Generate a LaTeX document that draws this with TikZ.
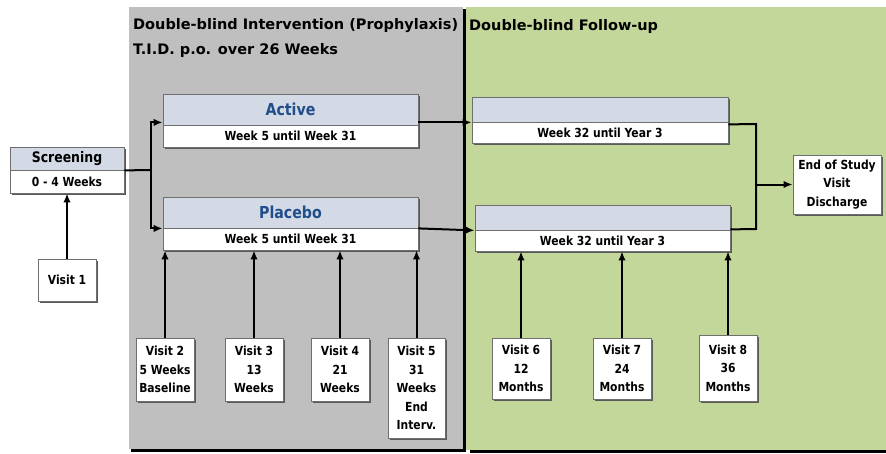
\documentclass[tikz,border=0pt]{standalone}
\usepackage{fontspec}
\setmainfont{DejaVu Sans}[FakeStretch=0.86]
\newfontfamily\ttlfont{DejaVu Sans}
\usetikzlibrary{arrows.meta,shadows}
\definecolor{panelgray}{HTML}{BFBFBF}
\definecolor{panelgreen}{HTML}{C4D79B}
\definecolor{hdrblue}{HTML}{D3DAE5}
\definecolor{txtblue}{HTML}{214E8A}
\definecolor{boxline}{HTML}{6F6F6F}
\tikzset{
  box/.style={draw=boxline, line width=0.8pt, fill=white,
    drop shadow={shadow xshift=2pt, shadow yshift=-2pt, fill=black!65, opacity=1},
    inner sep=0pt, align=center, font=\bfseries\fontsize{12.5}{18.5}\selectfont},
  hdr/.style={box, fill=hdrblue, text=txtblue, font=\bfseries\fontsize{16.5}{18}\selectfont},
  conn/.style={line width=2pt, -{Latex[length=9pt,width=7.5pt]}},
  plain/.style={line width=2pt},
  ttl/.style={anchor=base west, inner sep=0pt, font=\ttlfont\bfseries\fontsize{14.5}{18}\selectfont}
}
\begin{document}
\begin{tikzpicture}[x=1pt,y=-1pt]
\useasboundingbox[fill=white] (0,0) rectangle (886,453);
% panels
\fill[black] (131,9) rectangle (466,452);
\fill[panelgray] (129,7) rectangle (463,449);
\fill[black] (470,10) rectangle (886,453);
\fill[panelgreen] (466,7) rectangle (886,450);
\node[ttl] (t1) at (133,29) {Double-blind Intervention (Prophylaxis)};
\node[ttl] (t2) at (133,54) {T.I.D. p.o. over 26 Weeks};
\node[ttl] (t3) at (469,30) {Double-blind Follow-up};
% screening
\node[hdr, text=black, font=\bfseries\fontsize{14.5}{16}\selectfont, minimum width=114, minimum height=23] (scrH) at (67,158.5) {Screening};
\node[box, minimum width=114, minimum height=23] (scrB) at (67,181.5) {0 - 4 Weeks};
% active / placebo
\node[hdr, minimum width=255, minimum height=31] (actH) at (290.5,109.5) {Active};
\node[box, minimum width=255, minimum height=22] (actB) at (290.5,136) {Week 5 until Week 31};
\node[hdr, minimum width=255, minimum height=31] (plcH) at (290.5,212.5) {Placebo};
\node[box, minimum width=255, minimum height=22] (plcB) at (290.5,239) {Week 5 until Week 31};
% follow-up
\node[hdr, minimum width=256, minimum height=25] (f1H) at (600,109.5) {};
\node[box, minimum width=256, minimum height=21] (f1B) at (600,132.5) {Week 32 until Year 3};
\node[hdr, minimum width=255, minimum height=25] (f2H) at (602.5,217.5) {};
\node[box, minimum width=255, minimum height=21] (f2B) at (602.5,240.5) {Week 32 until Year 3};
\node[box, minimum width=88, minimum height=59] (endb) at (837,184.5) {End of Study\\Visit\\Discharge};
% visits
\node[box, minimum width=58, minimum height=42] (v1) at (67,280) {Visit 1};
\node[box, minimum width=58, minimum height=63] (v2) at (165,369.5) {Visit 2\\5 Weeks\\Baseline};
\node[box, minimum width=58, minimum height=63] (v3) at (254,369.5) {Visit 3\\13\\Weeks};
\node[box, minimum width=58, minimum height=63] (v4) at (340,369.5) {Visit 4\\21\\Weeks};
\node[box, minimum width=57, minimum height=100] (v5) at (416.5,388) {Visit 5\\31\\Weeks\\End\\Interv.};
\node[box, minimum width=58, minimum height=61] (v6) at (521,368.5) {Visit 6\\12\\Months};
\node[box, minimum width=58, minimum height=61] (v7) at (622,368.5) {Visit 7\\24\\Months};
\node[box, minimum width=58, minimum height=66] (v8) at (728,368) {Visit 8\\36\\Months};
% connectors
\coordinate (br) at (151,170);
\draw[plain] (scrH.south east) -- (br);
\draw[conn] (br) |- ([yshift=3pt]actH.south west);
\draw[conn] (br) |- (plcH.south west);
\draw[conn] ([yshift=3pt]actH.south east) -- (f1H.south west);
\draw[conn] (plcH.south east) -- (f2H.south west);
\coordinate (jt) at (756,124);
\coordinate (jb) at (756,229);
\coordinate (jm) at (756,184.5);
\draw[plain] ([yshift=-2pt]f1H.south east) -- (jt) -- (jb) -- ([yshift=1pt]f2H.south east);
\draw[conn] (jm) -- (endb.west);
\draw[conn] (v1.north) -- (scrB.south);
\draw[conn] (v2.north) -- (v2.north |- plcB.south);
\draw[conn] (v3.north) -- (v3.north |- plcB.south);
\draw[conn] (v4.north) -- (v4.north |- plcB.south);
\draw[conn] (v5.north) -- (v5.north |- plcB.south);
\draw[conn] (v6.north) -- (v6.north |- f2B.south);
\draw[conn] (v7.north) -- (v7.north |- f2B.south);
\draw[conn] (v8.north) -- (v8.north |- f2B.south);
\end{tikzpicture}
\end{document}
